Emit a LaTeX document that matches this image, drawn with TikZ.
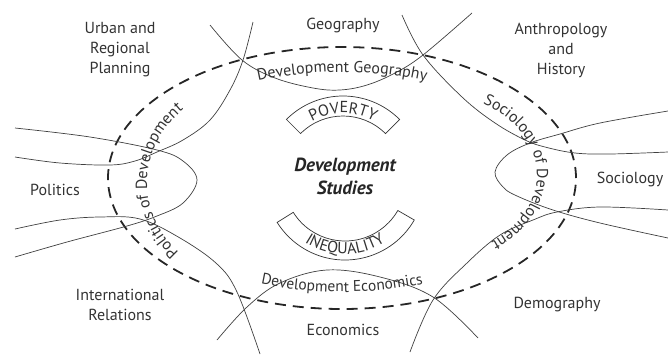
\documentclass[tikz,border=0pt]{standalone}
\usepackage{fontspec}
\setmainfont{PT Sans}
\usetikzlibrary{decorations.text,calc}
\begin{document}
\begin{tikzpicture}[x=1pt,y=1pt]
\useasboundingbox (0,0) rectangle (668,-354);
\tikzset{
  field/.style={draw=black!75, line width=0.7pt},
  lbl/.style={text=black!80, font=\fontsize{16}{20}\selectfont, align=center},
  band/.style={draw=black!80, line width=0.7pt},
  ring/.style={draw=black!85, line width=1.8pt, dash pattern=on 11pt off 7pt},
  curvetext/.style={decorate, decoration={text along path, text align=center, text={#1}}}
}
% central dashed ellipse
\coordinate (C) at (342,-178);
\draw[ring] (C) ellipse [x radius=234, y radius=131];

% field boundaries
\draw[field] plot[smooth, tension=0.6] coordinates {(15,-157) (60,-163) (110,-165) (135,-161) (157,-152) (183,-140) (210,-120) (230,-90) (243,-60) (253,-22)};
\draw[field] plot[smooth, tension=0.6] coordinates {(210,-25) (242,-60) (275,-78) (313,-88) (340,-90) (367,-85) (395,-73) (423,-55) (472,-13)};
\draw[field] plot[smooth, tension=0.6] coordinates {(402,-15) (423,-55) (462,-97) (495,-123) (525,-140) (545,-147) (575,-153) (610,-154) (668,-152)};
\draw[field] plot[smooth, tension=0.6] coordinates {(668,-111) (600,-123) (560,-134) (530,-143) (507,-155) (495,-172) (503,-187) (517,-196) (553,-210) (600,-223) (668,-238)};
\draw[field] plot[smooth, tension=0.6] coordinates {(410,-352) (433,-300) (467,-263) (500,-235) (533,-220) (557,-212) (600,-207) (668,-210)};
\draw[field] plot[smooth, tension=0.6] coordinates {(217,-340) (247,-307) (280,-283) (327,-270) (380,-277) (433,-297) (478,-338)};
\draw[field] plot[smooth, tension=0.6] coordinates {(15,-229) (60,-220) (100,-217) (140,-219) (180,-238) (217,-264) (237,-292) (260,-354)};
\draw[field] plot[smooth, tension=0.6] coordinates {(15,-128) (90,-137) (157,-150) (183,-161) (197,-180) (183,-203) (157,-216) (127,-226) (67,-242) (15,-257)};

% outer labels
\node[lbl] (urban) at (120,-50) {Urban and\\Regional\\Planning};
\node[lbl] (geo) at (343,-25) {Geography};
\node[lbl] (anth) at (561,-50) {Anthropology\\and\\History};
\node[lbl] (pol) at (55,-190) {Politics};
\node[lbl] (soc) at (630,-179) {Sociology};
\node[lbl] (ir) at (120,-305) {International\\Relations};
\node[lbl] (eco) at (343,-330) {Economics};
\node[lbl] (dem) at (557,-305) {Demography};

% centre
\node[text=black!85, font=\fontsize{19}{23}\selectfont\bfseries\itshape, align=center] (ds) at (345,-176) {Development\\Studies};

% bands
\draw[band] ($(343,-176)+(45:60)$) arc[start angle=45, end angle=135, radius=60] -- ++(135:20) arc[start angle=135, end angle=45, radius=80] -- cycle;
\draw[band] ($(345,-180)+(-148:61)$) arc[start angle=-148, end angle=-30, radius=61] -- ++(-30:19) arc[start angle=-30, end angle=-148, radius=80] -- cycle;

% curved texts
\path[curvetext={|\fontsize{16}{16}\selectfont\color{black!80}|POVERTY}] ($(343,-176)+(150:63)$) arc[start angle=150, end angle=30, radius=63];
\path[curvetext={|\fontsize{16}{16}\selectfont\color{black!80}|INEQUALITY}] ($(345,-180)+(-165:74)$) arc[start angle=-165, end angle=-15, radius=74];
\path[curvetext={|\fontsize{16}{16}\selectfont\color{black!80}|Development Geography}] ($(C)+(125:209 and 106)$) arc[start angle=125, end angle=55, x radius=209, y radius=106];
\path[curvetext={|\fontsize{15.5}{16}\selectfont\color{black!80}|Development Economics}] ($(C)+(235:217 and 114)$) arc[start angle=235, end angle=305, x radius=217, y radius=114];
\path[curvetext={|\fontsize{16}{16}\selectfont\color{black!80}|Sociology of Development}] ($(430,-175)+(78:107 and 82)$) arc[start angle=78, end angle=-73, x radius=107, y radius=82];
\path[curvetext={|\fontsize{16}{16}\selectfont\color{black!80}|Politics of Development}] ($(260,-183)+(245:113 and 100)$) arc[start angle=245, end angle=112, x radius=113, y radius=100];
\end{tikzpicture}
\end{document}
